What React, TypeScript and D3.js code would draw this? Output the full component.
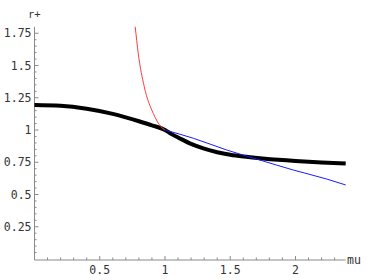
import React from "react";
import * as d3 from "d3";

// values
const muThick = [0, 0.2, 0.4, 0.6, 0.8, 0.9, 1.0, 1.05, 1.1, 1.2, 1.3, 1.4, 1.5, 1.6, 1.75, 2.0, 2.2, 2.385];
const rThick = [1.194, 1.188, 1.165, 1.125, 1.068, 1.036, 1.0, 0.968, 0.942, 0.892, 0.855, 0.828, 0.808, 0.794, 0.779, 0.76, 0.749, 0.741];

const muRed = [0.772, 0.795, 0.841, 0.91, 0.969, 1.0];
const rRed = [1.8, 1.595, 1.336, 1.129, 1.026, 1.0];

const muBlue = [1.0, 1.217, 1.473, 1.728, 1.983, 2.239, 2.385];
const rBlue = [1.0, 0.936, 0.845, 0.767, 0.69, 0.62, 0.574];

const xTicks = [0.5, 1, 1.5, 2];
const yTicks = [0.25, 0.5, 0.75, 1, 1.25, 1.5, 1.75];

const width = 374;
const height = 280;
const font = "DejaVu Sans Mono";

const App = () => {
  const xScale = d3.scaleLinear().domain([0, 2.385]).range([34.5, 345.7]);
  const yScale = d3.scaleLinear().domain([0, 1.75]).range([259, 33.25]);

  const line = d3
    .line<[number, number]>()
    .x((d) => xScale(d[0]))
    .y((d) => yScale(d[1]))
    .curve(d3.curveMonotoneX);

  const thick = muThick.map((m, i) => [m, rThick[i]] as [number, number]);
  const red = muRed.map((m, i) => [m, rRed[i]] as [number, number]);
  const blue = muBlue.map((m, i) => [m, rBlue[i]] as [number, number]);

  const x0 = xScale(0);
  const y0 = yScale(0);
  const axisColor = "#8a8a8a";
  const textStyle = { fontFamily: font, fontSize: 11.5, fill: "#333" };

  const xMinor = d3.range(0.1, 2.39, 0.1).filter((v) => Math.abs(v * 2 - Math.round(v * 2)) > 1e-6);
  const yMinor = d3.range(0.05, 1.79, 0.05).filter((v) => Math.abs(v * 4 - Math.round(v * 4)) > 1e-6);

  return (
    <svg
      width={width}
      height={height}
      style={{ position: "absolute", left: 0, top: 0, background: "#fff" }}
    >
      {/* axes */}
      <line x1={x0} x2={xScale(2.385)} y1={y0 + 1} y2={y0 + 1} stroke={axisColor} strokeWidth={1} />
      <line x1={x0} x2={x0} y1={y0 + 1} y2={yScale(1.8)} stroke={axisColor} strokeWidth={1} />

      {xTicks.map((t) => (
        <g key={"xt" + t}>
          <line x1={xScale(t)} x2={xScale(t)} y1={y0 + 1} y2={y0 - 3} stroke={axisColor} />
          <text x={xScale(t)} y={y0 + 15} textAnchor="middle" style={textStyle}>
            {t}
          </text>
        </g>
      ))}
      {xMinor.map((t) => (
        <line key={"xm" + t} x1={xScale(t)} x2={xScale(t)} y1={y0 + 1} y2={y0 - 1.5} stroke={axisColor} />
      ))}

      {yTicks.map((t) => (
        <g key={"yt" + t}>
          <line x1={x0} x2={x0 + 4} y1={yScale(t)} y2={yScale(t)} stroke={axisColor} />
          <text x={x0 - 3} y={yScale(t) + 4} textAnchor="end" style={textStyle}>
            {t}
          </text>
        </g>
      ))}
      {yMinor.map((t) => (
        <line key={"ym" + t} x1={x0} x2={x0 + 2} y1={yScale(t)} y2={yScale(t)} stroke={axisColor} />
      ))}

      <text x={28} y={18} style={{ ...textStyle, fontSize: 10.5 }}>
        r+
      </text>
      <text x={347} y={264} style={textStyle}>
        mu
      </text>

      {/* curves */}
      <path d={line(thick) || ""} fill="none" stroke="#000" strokeWidth={4} />
      <path d={line(red) || ""} fill="none" stroke="#ff3b3b" strokeWidth={1} />
      <path d={line(blue) || ""} fill="none" stroke="#1a1aff" strokeWidth={1} />
    </svg>
  );
};

export default App;
